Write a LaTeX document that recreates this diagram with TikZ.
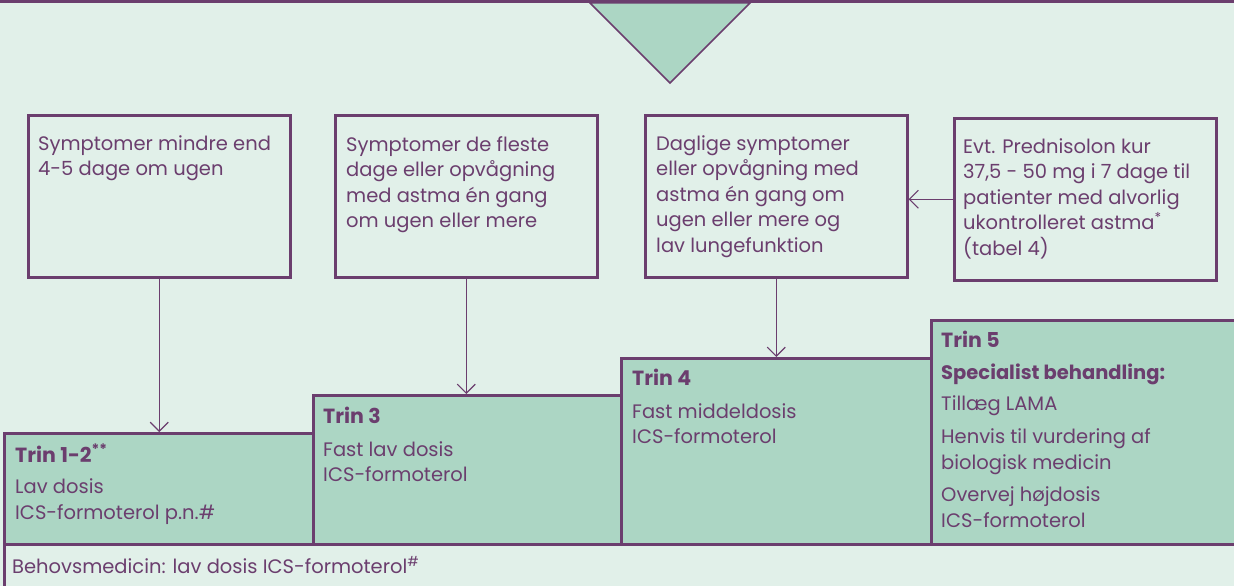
\documentclass[tikz,border=0pt]{standalone}
\usepackage{fontspec}
\setmainfont{Poppins}
\usetikzlibrary{arrows.meta}

\definecolor{AstmaPurple}{RGB}{107,62,110}
\definecolor{AstmaMint}{RGB}{172,214,196}
\definecolor{AstmaPale}{RGB}{225,240,233}

\newcommand{\trinhead}[1]{{\fontsize{20.5}{25}\selectfont\bfseries #1}}

\tikzset{
  symbox/.style={draw=AstmaPurple, line width=2.5pt, fill=AstmaPale, anchor=north west, inner sep=0pt, minimum width=262pt, minimum height=162pt},
  trinbox/.style={draw=AstmaPurple, line width=2.5pt, fill=AstmaMint, anchor=north west, inner sep=0pt},
  boxtext/.style={anchor=north west, inner sep=0pt, align=left, text=AstmaPurple, font=\fontsize{19.5}{25.6}\selectfont},
  pil/.style={draw=AstmaPurple, line width=1.2pt, -{Straight Barb[length=9pt,width=18pt]}}
}

\begin{document}
\begin{tikzpicture}[x=1pt, y=-1pt]
        \useasboundingbox (0,0) rectangle (1234,586);
        \fill[AstmaPale] (0,0) rectangle (1234,586);
        \filldraw[fill=AstmaMint, draw=AstmaPurple, line width=1.5pt] (590,3) -- (750,3) -- (670,83) -- cycle;
        \draw[AstmaPurple, line width=3pt] (1,-5) -- (1,2) -- (1240,2);

        \node[symbox] (s1) at (27,114) {};
        \node[symbox] (s2) at (334,114) {};
        \node[symbox] (s3) at (644,114) {};
        \node[symbox] (s4) at (953,117) {};

        \node[trinbox, minimum width=310pt, minimum height=224pt] (t5) at (930,319) {};
        \node[trinbox, minimum width=310pt, minimum height=186pt] (t4) at (620,357) {};
        \node[trinbox, minimum width=308pt, minimum height=149pt] (t3) at (312,394) {};
        \node[trinbox, minimum width=309pt, minimum height=111pt] (t12) at (3,432) {};
        \node[symbox, minimum width=1240pt, minimum height=60pt] (behov) at (3,543) {};

        \draw[pil] (s1.south) -- (s1.south |- t12.north);
        \draw[pil] (s2.south) -- (s2.south |- t3.north);
        \draw[pil] (s3.south) -- (s3.south |- t4.north);
        \draw[pil] (s4.west) -- (s4.west -| s3.east);

        \node[boxtext] (s1txt) at (38,135) {Symptomer mindre end\\4-5 dage om ugen};
        \node[boxtext] (s2txt) at (346,136) {Symptomer de fleste\\dage eller opvågning\\med astma én gang\\om ugen eller mere};
        \node[boxtext] (s3txt) at (656,135) {Daglige symptomer\\eller opvågning med\\astma én gang om\\ugen eller mere og\\lav lungefunktion};
        \node[boxtext] (s4txt) at (963,138) {Evt. Prednisolon kur\\37,5 - 50 mg i 7 dage til\\patienter med alvorlig\\ukontrolleret astma\textsuperscript{*}\\(tabel 4)};

        \node[boxtext] (t12txt) at (15,444) {\trinhead{Trin 1-2\textsuperscript{**}}\\[6pt]Lav dosis\\ICS-formoterol p.n.\#};
        \node[boxtext] (t3txt) at (323,407) {\trinhead{Trin 3}\\[7pt]Fast lav dosis\\ICS-formoterol};
        \node[boxtext] (t4txt) at (632,369) {\trinhead{Trin 4}\\[7pt]Fast middeldosis\\ICS-formoterol};
        \node[boxtext] (t5txt) at (941,331) {\trinhead{Trin 5}\\[6pt]\textbf{Specialist behandling:}\\[6pt]Tillæg LAMA\\[7pt]Henvis til vurdering af\\biologisk medicin\\[7pt]Overvej højdosis\\ICS-formoterol};
        \node[boxtext, anchor=west] (behovtxt) at (12,565) {Behovsmedicin: lav dosis ICS-formoterol\textsuperscript{\#}};
\end{tikzpicture}
\end{document}
